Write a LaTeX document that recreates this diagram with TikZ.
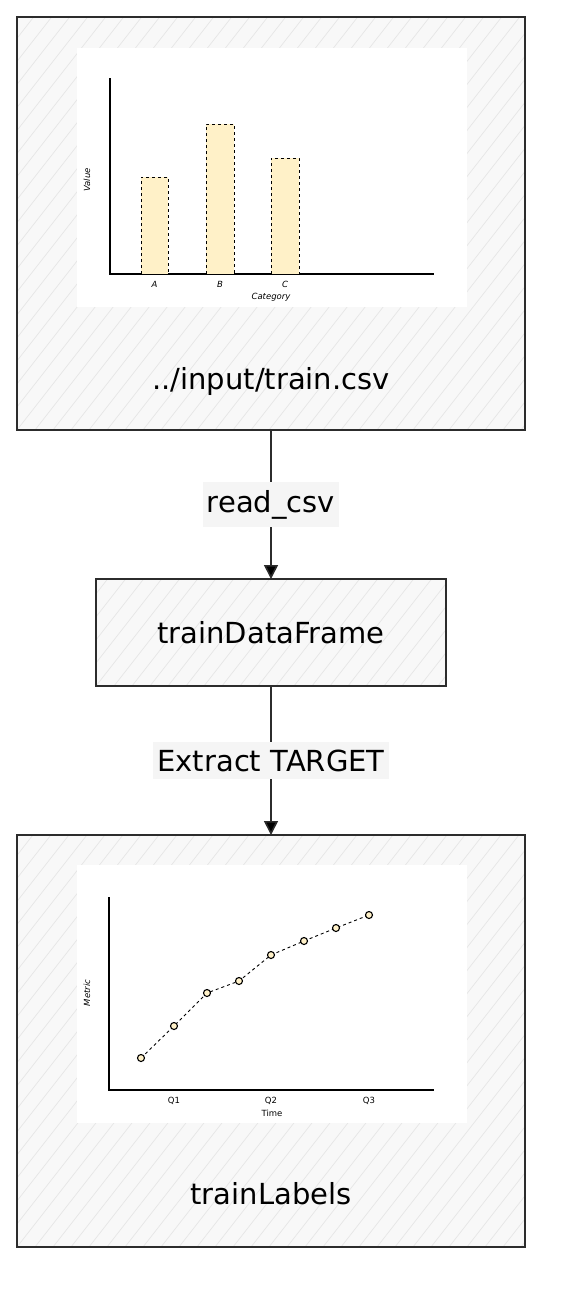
\documentclass[tikz,border=0pt]{standalone}
\usepackage{fontspec}
\setmainfont{DejaVu Sans}
\usetikzlibrary{positioning,arrows.meta}
\definecolor{boxline}{HTML}{2C2C2C}
\definecolor{boxfill}{HTML}{F8F8F8}
\definecolor{hatchline}{HTML}{E6E6E6}
\definecolor{barfill}{HTML}{FFF1C8}
\definecolor{lblfill}{HTML}{F5F5F5}
\newcommand\stagefont{\fontsize{29}{32}\selectfont}
\newcommand\chartfont{\fontsize{8.5}{9}\selectfont}
\begin{document}
\begin{tikzpicture}[x=1pt,y=-1pt,node distance=149pt,
  stagebox/.style={draw=boxline,line width=2.8pt,fill=boxfill,inner sep=0pt,outer sep=0pt,
    path picture={\foreach \k in {-25,...,35}
      \draw[hatchline,line width=0.7pt] ([xshift=\k*18pt]path picture bounding box.south west) -- ++(52:700pt);}},
  flowarrow/.style={draw=boxline,line width=1.6pt,-{Triangle[length=14pt,width=14pt]}},
  edgelbl/.style={fill=lblfill,font=\stagefont,text=black,inner xsep=4pt,inner ysep=8pt},
  chartaxis/.style={draw=black,line width=1.1pt},
  chartbar/.style={draw=black,fill=barfill,dashed,line width=1pt},
  chartline/.style={draw=black,dashed,line width=0.9pt},
  chartdot/.style={draw=black,fill=barfill,line width=1.1pt},
  ticklbl/.style={font=\chartfont,inner sep=0pt}]
\useasboundingbox (0,0) rectangle (560,1302);
\node[stagebox,minimum width=508pt,minimum height=413pt] (csv) at (271,223.5) {};
\node[stagebox,minimum width=350pt,minimum height=107pt,font=\stagefont] (df) [below=of csv] {trainDataFrame};
\node[stagebox,minimum width=508pt,minimum height=412pt] (lbl) [below=of df] {};
\path[flowarrow] (csv) edge node[edgelbl] {read\_csv} (df);
\path[flowarrow] (df) edge node[edgelbl] {Extract TARGET} (lbl);

\fill[white] (77,48) rectangle (467,307);
\draw[chartaxis] (110,78) -- (110,274) -- (434,274);
\foreach \l/\a/\b/\h in {A/141/168/177,B/206/234/124,C/271/299/158}{
  \draw[chartbar] (\a,274) rectangle (\b,\h);
  \node[ticklbl,font=\chartfont\itshape] at ({(\a+\b)/2},284) {\l};
}
\node[ticklbl,font=\chartfont\itshape] at (271,297) {Category};
\node[ticklbl,font=\chartfont\itshape,rotate=90] at (87,180) {Value};
\node[font=\stagefont] (csvname) at (271,381) {../input/train.csv};

\fill[white] (77,865) rectangle (467,1123);
\draw[chartaxis] (109,897) -- (109,1090) -- (434,1090);
\draw[chartline] (141,1058) -- (174,1026) -- (207,993) -- (239,981) -- (271,955) -- (304,941) -- (336,928) -- (369,915);
\foreach \px/\py in {141/1058,174/1026,207/993,239/981,271/955,304/941,336/928,369/915}
  \draw[chartdot] (\px,\py) circle[radius=3.5pt];
\foreach \q/\px in {Q1/174,Q2/271,Q3/369}
  \node[ticklbl] at (\px,1101) {\q};
\node[ticklbl] at (272,1113) {Time};
\node[ticklbl,font=\chartfont\itshape,rotate=90] at (87,993) {Metric};
\node[font=\stagefont] (lblname) at (271,1194) {trainLabels};
\end{tikzpicture}
\end{document}
